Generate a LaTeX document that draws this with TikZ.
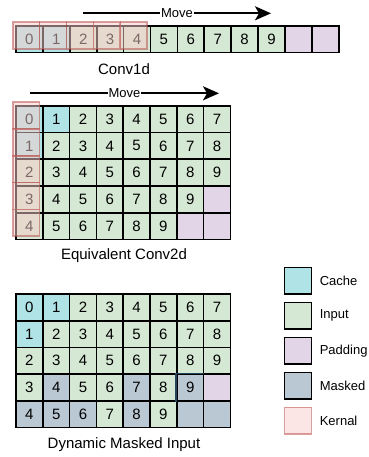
\documentclass[tikz,border=0pt]{standalone}
\usepackage{fontspec}
\setmainfont{Liberation Sans}
\usetikzlibrary{arrows.meta, positioning}

\definecolor{cache}{HTML}{B0E3E6}
\definecolor{input}{HTML}{D5E8D4}
\definecolor{pad}{HTML}{E1D5E7}
\definecolor{mask}{HTML}{BAC8D3}
\definecolor{kern}{HTML}{F8CECC}
\definecolor{kernline}{HTML}{B85450}
\definecolor{maskline}{HTML}{23445D}

\tikzset{
	cell/.style = {draw, line width = 1.6pt, minimum width = 26.8pt, minimum height = 26.7pt, inner sep = 0pt, font = \fontsize{15}{15}\selectfont},
	kernel/.style = {draw = kernline, draw opacity = 0.55, fill = kern, fill opacity = 0.5, line width = 1.6pt, minimum width = 26.8pt, minimum height = 26.7pt, inner sep = 0pt},
	caption/.style = {font = \fontsize{15}{15}\selectfont},
	move/.style = {midway, fill = white, inner sep = 1pt, font = \fontsize{13}{13}\selectfont},
	key/.style = {draw, line width = 1.6pt, minimum size = 26.8pt, inner sep = 0pt},
	key label/.style = {inner sep = 0pt, font = \fontsize{13}{13}\selectfont}
}

\begin{document}
\begin{tikzpicture}[x = 1pt, y = -1pt, > = {Stealth[length = 16pt, width = 14pt, inset = 4pt]}]

	\useasboundingbox (0, 0) rectangle (368, 457);

	% Conv1d row

	\foreach \i in {0, ..., 11} {
		\ifnum\i<2 \def\kind{cache}\else\ifnum\i<10 \def\kind{input}\else\def\kind{pad}\fi\fi
		\ifnum\i<10 \def\lbl{\i}\else\def\lbl{}\fi
		\node [cell, fill = \kind] (a-\i) at ({29.4 + 26.9 * \i}, 39.3) {\lbl};
	}
	\foreach \i in {0, ..., 4}
		\node [kernel] (ka-\i) at ({26.1 + 26.9 * \i}, 35.6) {};

	\coordinate (ma-s) at (83, 13.3);
	\coordinate (ma-e) at (271, 13.3);
	\draw [->, line width = 2pt] (ma-s) -- node [move] {Move} (ma-e);

	\node [caption] (cap-a) at (124, 69) {Conv1d};

	% Equivalent Conv2d grid

	\foreach \r in {0, ..., 4} {
		\foreach \c in {0, ..., 7} {
			\pgfmathtruncatemacro{\v}{\r + \c}
			\ifnum\v<2 \def\kind{cache}\else\ifnum\v<10 \def\kind{input}\else\def\kind{pad}\fi\fi
			\ifnum\v<10 \def\lbl{\v}\else\def\lbl{}\fi
			\node [cell, fill = \kind] (b-\r-\c) at ({29.4 + 26.8 * \c}, {119.1 + 26.8 * \r}) {\lbl};
		}
	}
	\foreach \r in {0, ..., 4}
		\node [kernel] (kb-\r) at (26.1, {115.6 + 26.8 * \r}) {};

	\coordinate (mb-s) at (30, 93.3);
	\coordinate (mb-e) at (219, 93.3);
	\draw [->, line width = 2pt] (mb-s) -- node [move] {Move} (mb-e);

	\node [caption] (cap-b) at (124, 256) {Equivalent Conv2d};

	% Dynamic masked input grid

	\foreach \r/\row in {
			0/{cache, cache, input, input, input, input, input, input},
			1/{cache, input, input, input, input, input, input, input},
			2/{input, input, input, input, input, input, input, input},
			3/{input, mask, input, input, mask, input, mask, pad},
			4/{mask, mask, mask, input, mask, input, mask, mask}} {
		\foreach \kind [count = \c from 0] in \row {
			\pgfmathtruncatemacro{\v}{\r + \c}
			\ifnum\v<10 \def\lbl{\v}\else\def\lbl{}\fi
			\node [cell, fill = \kind] (m-\r-\c) at ({29.4 + 26.8 * \c}, {307.35 + 26.7 * \r}) {\lbl};
		}
	}
	\draw [maskline, line width = 1.6pt] (m-3-6.south west) |- (m-3-6.north east);

	\node [caption] (cap-m) at (124, 445) {Dynamic Masked Input};

	% Legend

	\node [key, fill = cache] (l-cache) at (298, 280.7) {};
	\node [key, fill = input, below = 6.6pt of l-cache] (l-input) {};
	\node [key, fill = pad, below = 6.6pt of l-input] (l-pad) {};
	\node [key, fill = mask, below = 6.6pt of l-pad] (l-mask) {};
	\node [kernel, minimum size = 26.8pt, below = 6.6pt of l-mask] (l-kern) {};

	\node [key label, right = 7.4pt of l-cache] {Cache};
	\node [key label, right = 7.4pt of l-input] {Input};
	\node [key label, right = 7.4pt of l-pad] {Padding};
	\node [key label, right = 7.4pt of l-mask] {Masked};
	\node [key label, right = 7.4pt of l-kern] {Kernal};

\end{tikzpicture}
\end{document}
